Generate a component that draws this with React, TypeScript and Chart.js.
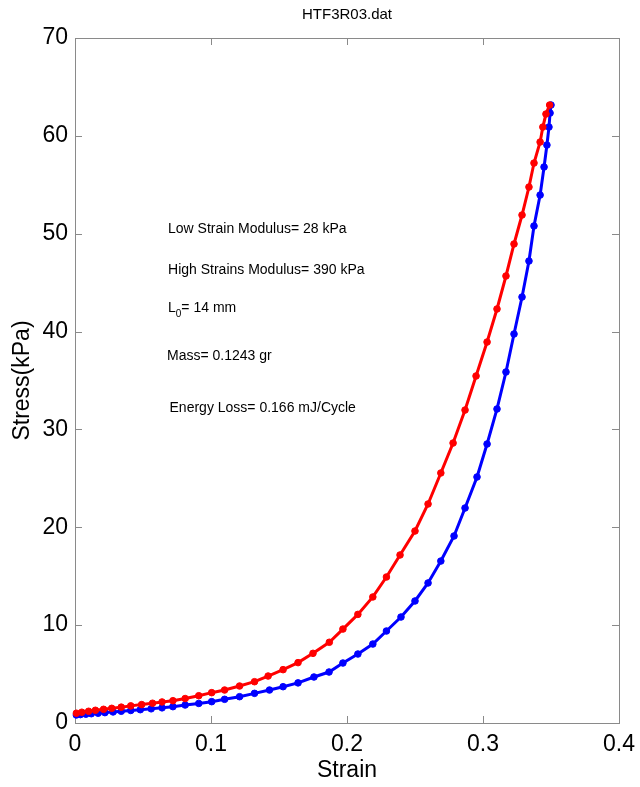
import React, { useEffect, useRef } from 'react';
import { Chart, registerables } from 'chart.js';

Chart.register(...registerables);

const FONT = '"Liberation Sans", Arial, Helvetica, sans-serif';

const TITLE = 'HTF3R03.dat';
const X_TITLE = 'Strain';
const Y_TITLE = 'Stress(kPa)';
const X_TICKS = [0, 0.1, 0.2, 0.3, 0.4];
const Y_TICKS = [0, 10, 20, 30, 40, 50, 60, 70];

// Loading branch (red)
const loadStrain = [
  0.001, 0.005, 0.010, 0.015, 0.021, 0.027, 0.034, 0.041, 0.049, 0.057, 0.064,
  0.072, 0.081, 0.091, 0.1005, 0.110, 0.121, 0.132, 0.142, 0.153, 0.164, 0.175,
  0.187, 0.197, 0.208, 0.219, 0.229, 0.239, 0.250, 0.2596, 0.269, 0.278, 0.2868,
  0.2949, 0.303, 0.3103, 0.3169, 0.3228, 0.3287, 0.3338, 0.3375, 0.342, 0.344,
  0.3463, 0.349,
];
const loadStress = [
  1.0, 1.1, 1.2, 1.3, 1.4, 1.5, 1.62, 1.75, 1.88, 2.02, 2.15,
  2.28, 2.5, 2.79, 3.1, 3.37, 3.78, 4.22, 4.8, 5.45, 6.17, 7.12,
  8.25, 9.6, 11.1, 12.88, 14.92, 17.17, 19.62, 22.38, 25.55, 28.61, 31.98,
  35.46, 38.93, 42.31, 45.68, 48.95, 51.91, 54.77, 57.22, 59.37, 60.9,
  62.23, 63.15,
];

// Unloading branch (blue)
const unloadStrain = [
  0.001, 0.004, 0.008, 0.012, 0.017, 0.022, 0.028, 0.034, 0.041, 0.048, 0.056,
  0.064, 0.072, 0.081, 0.091, 0.1005, 0.110, 0.121, 0.132, 0.143, 0.153, 0.164,
  0.1757, 0.1868, 0.197, 0.208, 0.219, 0.229, 0.2397, 0.250, 0.2596, 0.269,
  0.2787, 0.2868, 0.2956, 0.303, 0.3103, 0.3169, 0.3228, 0.3287, 0.3338, 0.3375,
  0.342, 0.3449, 0.347, 0.3485, 0.3493, 0.350,
];
const unloadStress = [
  0.82, 0.86, 0.9, 0.95, 1.0, 1.06, 1.13, 1.2, 1.28, 1.36, 1.45,
  1.55, 1.67, 1.84, 2.0, 2.18, 2.42, 2.69, 3.03, 3.37, 3.71, 4.1,
  4.7, 5.21, 6.13, 7.05, 8.07, 9.4, 10.83, 12.47, 14.31, 16.55,
  19.11, 21.97, 25.14, 28.51, 32.09, 35.87, 39.75, 43.53, 47.21, 50.79,
  53.95, 56.82, 59.06, 60.9, 62.33, 63.15,
];

// Annotation text (underscore marks a subscript character)
const noteText = [
  'Low Strain Modulus= 28 kPa',
  'High Strains Modulus= 390 kPa',
  'L_0= 14 mm',
  'Mass= 0.1243 gr',
  'Energy Loss= 0.166 mJ/Cycle',
];
const noteX = [0.0684, 0.0684, 0.0684, 0.0677, 0.0695];
const noteY = [50.5, 46.3, 42.4, 37.5, 32.2];

const framePlugin = {
  id: 'frame',
  beforeDatasetsDraw(chart: any) {
    const { ctx, chartArea: a, scales } = chart;
    const xs = scales.x;
    const ys = scales.y;
    ctx.save();
    ctx.strokeStyle = '#8a8a8a';
    ctx.lineWidth = 1;
    ctx.strokeRect(Math.round(a.left) + 0.5, Math.round(a.top) + 0.5,
      Math.round(a.right - a.left), Math.round(a.bottom - a.top));
    const tl = 7;
    ctx.beginPath();
    X_TICKS.forEach((v) => {
      const px = Math.round(xs.getPixelForValue(v)) + 0.5;
      ctx.moveTo(px, a.bottom);
      ctx.lineTo(px, a.bottom - tl);
      ctx.moveTo(px, a.top);
      ctx.lineTo(px, a.top + tl);
    });
    Y_TICKS.forEach((v) => {
      const py = Math.round(ys.getPixelForValue(v)) + 0.5;
      ctx.moveTo(a.left, py);
      ctx.lineTo(a.left + tl, py);
      ctx.moveTo(a.right, py);
      ctx.lineTo(a.right - tl, py);
    });
    ctx.stroke();
    ctx.restore();
  },
  afterDraw(chart: any) {
    const { ctx, chartArea: a, scales } = chart;
    const xs = scales.x;
    const ys = scales.y;
    ctx.save();
    ctx.fillStyle = '#000';
    ctx.textBaseline = 'middle';
    // title
    ctx.font = `15px ${FONT}`;
    ctx.textAlign = 'center';
    ctx.fillText(TITLE, (a.left + a.right) / 2, 15);
    // notes
    ctx.textAlign = 'left';
    noteText.forEach((t, i) => {
      let x = xs.getPixelForValue(noteX[i]);
      const y = ys.getPixelForValue(noteY[i]);
      const parts = t.split('_');
      ctx.font = `14px ${FONT}`;
      ctx.fillText(parts[0], x, y);
      x += ctx.measureText(parts[0]).width;
      if (parts.length > 1) {
        const sub = parts[1].charAt(0);
        const rest = parts[1].slice(1);
        ctx.font = `10px ${FONT}`;
        ctx.fillText(sub, x, y + 6);
        x += ctx.measureText(sub).width;
        ctx.font = `14px ${FONT}`;
        ctx.fillText(rest, x, y);
      }
    });
    ctx.restore();
  },
};

export default function App() {
  const ref = useRef<HTMLCanvasElement | null>(null);

  useEffect(() => {
    if (!ref.current) return;
    const red = loadStrain.map((x, i) => ({ x, y: loadStress[i] }));
    const blue = unloadStrain.map((x, i) => ({ x, y: unloadStress[i] }));
    const common = {
      showLine: true,
      borderWidth: 3,
      pointRadius: 3.3,
      pointBorderWidth: 1,
      clip: false,
    };
    const chart = new Chart(ref.current, {
      type: 'scatter',
      data: {
        datasets: [
          {
            ...common,
            data: red,
            borderColor: '#ff0000',
            backgroundColor: '#ff0000',
            pointBackgroundColor: '#ff0000',
            pointBorderColor: '#ff0000',
          } as any,
          {
            ...common,
            data: blue,
            borderColor: '#0000ff',
            backgroundColor: '#0000ff',
            pointBackgroundColor: '#0000ff',
            pointBorderColor: '#0000ff',
          } as any,
        ],
      },
      options: {
        animation: false,
        responsive: false,
        maintainAspectRatio: false,
        layout: { padding: { top: 38, right: 21, left: 0, bottom: 0 } },
        plugins: {
          legend: { display: false },
          tooltip: { enabled: false },
          title: { display: false },
        },
        scales: {
          x: {
            type: 'linear',
            min: 0,
            max: 0.4,
            afterBuildTicks: (s: any) => {
              s.ticks = X_TICKS.map((v) => ({ value: v }));
            },
            afterFit: (s: any) => {
              s.height = 64;
              s.paddingLeft = 0;
              s.paddingRight = 0;
            },
            ticks: {
              font: { family: FONT, size: 23 },
              color: '#000',
              padding: 8,
              maxRotation: 0,
              autoSkip: false,
              callback: (v: any) => String(v),
            },
            grid: { display: false, drawTicks: false },
            border: { display: false },
            title: {
              display: true,
              text: X_TITLE,
              font: { family: FONT, size: 23 },
              color: '#000',
              padding: { top: 0, bottom: 3 },
            },
          },
          y: {
            type: 'linear',
            min: 0,
            max: 70,
            afterBuildTicks: (s: any) => {
              s.ticks = Y_TICKS.map((v) => ({ value: v }));
            },
            afterFit: (s: any) => {
              s.width = 75;
              s.paddingTop = 0;
              s.paddingBottom = 0;
            },
            ticks: {
              font: { family: FONT, size: 23 },
              color: '#000',
              padding: 7,
              autoSkip: false,
              callback: (v: any) => String(v),
            },
            grid: { display: false, drawTicks: false },
            border: { display: false },
            title: {
              display: true,
              text: Y_TITLE,
              font: { family: FONT, size: 23 },
              color: '#000',
              padding: { top: 9, bottom: 0 },
            },
          },
        },
      } as any,
      plugins: [framePlugin],
    });
    return () => chart.destroy();
  }, []);

  return (
    <div style={{ position: 'absolute', left: 0, top: 0, width: 640, height: 787, background: '#fff' }}>
      <canvas ref={ref} width={640} height={787} style={{ width: 640, height: 787, display: 'block' }} />
    </div>
  );
}
